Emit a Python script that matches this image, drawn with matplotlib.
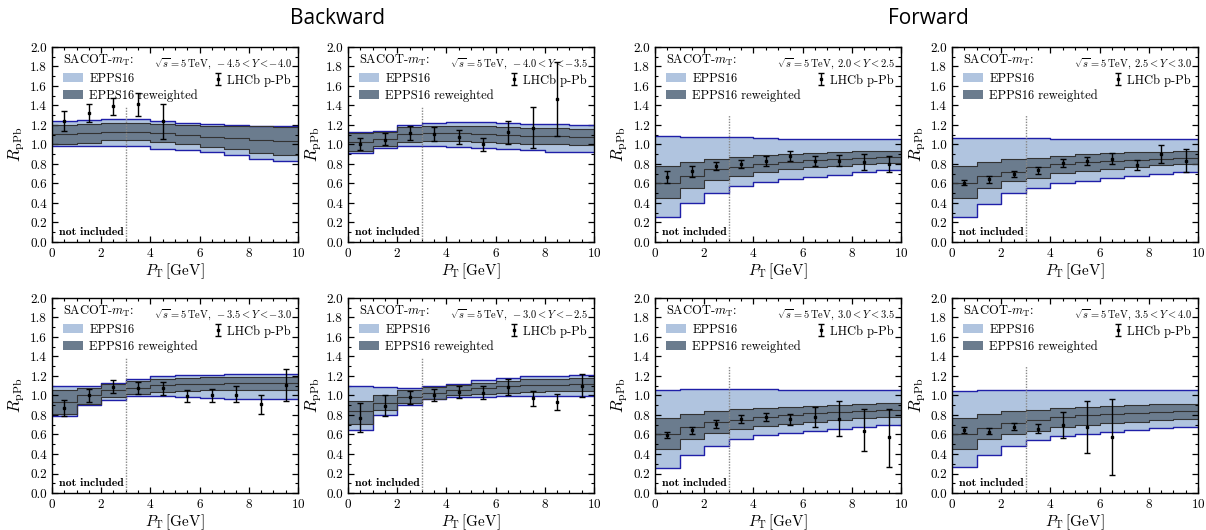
import numpy as np
import matplotlib.pyplot as plt
from matplotlib.patches import Patch
from matplotlib.ticker import MultipleLocator

plt.rcParams['font.family'] = 'serif'
plt.rcParams['font.serif'] = ['cmr10', 'DejaVu Serif']
plt.rcParams['mathtext.fontset'] = 'cm'
plt.rcParams['axes.formatter.use_mathtext'] = True

# pT bins (GeV)
edges = np.arange(0, 11)
pt_mid = np.arange(0.5, 10, 1.0)

# panel order: top row (bwd, bwd, fwd, fwd), bottom row (bwd, bwd, fwd, fwd)
rap_ranges = ['-4.5 < Y < -4.0', '-4.0 < Y < -3.5', '2.0 < Y < 2.5', '2.5 < Y < 3.0',
              '-3.5 < Y < -3.0', '-3.0 < Y < -2.5', '3.0 < Y < 3.5', '3.5 < Y < 4.0']
is_forward = [False, False, True, True, False, False, True, True]

# EPPS16 band
epps_upper = [
    [1.24, 1.25, 1.26, 1.26, 1.24, 1.22, 1.21, 1.20, 1.19, 1.19],
    [1.13, 1.14, 1.20, 1.22, 1.23, 1.235, 1.22, 1.21, 1.205, 1.20],
    [1.085, 1.08, 1.075, 1.075, 1.065, 1.06, 1.06, 1.055, 1.055, 1.055],
    [1.07, 1.07, 1.07, 1.07, 1.06, 1.06, 1.06, 1.06, 1.06, 1.06],
    [1.10, 1.10, 1.13, 1.17, 1.20, 1.21, 1.215, 1.22, 1.22, 1.22],
    [1.10, 1.09, 1.08, 1.10, 1.12, 1.16, 1.18, 1.20, 1.20, 1.21],
    [1.06, 1.07, 1.07, 1.07, 1.065, 1.06, 1.06, 1.06, 1.055, 1.055],
    [1.05, 1.06, 1.06, 1.06, 1.06, 1.06, 1.06, 1.055, 1.055, 1.055],
]
epps_lower = [
    [0.98, 0.98, 0.985, 0.98, 0.955, 0.94, 0.92, 0.89, 0.855, 0.83],
    [0.91, 0.96, 0.985, 0.985, 0.975, 0.96, 0.95, 0.94, 0.925, 0.925],
    [0.26, 0.40, 0.50, 0.57, 0.62, 0.65, 0.67, 0.69, 0.72, 0.74],
    [0.26, 0.39, 0.50, 0.55, 0.60, 0.63, 0.66, 0.68, 0.70, 0.72],
    [0.79, 0.90, 0.95, 0.99, 0.99, 0.98, 0.97, 0.965, 0.965, 0.965],
    [0.65, 0.80, 0.90, 0.96, 0.98, 0.985, 0.99, 0.99, 0.99, 0.99],
    [0.26, 0.39, 0.48, 0.55, 0.59, 0.62, 0.64, 0.66, 0.68, 0.70],
    [0.27, 0.39, 0.48, 0.54, 0.58, 0.61, 0.63, 0.65, 0.67, 0.68],
]

# EPPS16 reweighted band
rw_upper = [
    [1.20, 1.21, 1.22, 1.22, 1.21, 1.20, 1.19, 1.19, 1.185, 1.18],
    [1.12, 1.13, 1.18, 1.19, 1.19, 1.19, 1.18, 1.17, 1.165, 1.16],
    [0.78, 0.82, 0.85, 0.87, 0.89, 0.90, 0.91, 0.92, 0.93, 0.935],
    [0.78, 0.82, 0.85, 0.86, 0.88, 0.90, 0.91, 0.92, 0.925, 0.93],
    [1.06, 1.08, 1.12, 1.15, 1.17, 1.18, 1.185, 1.19, 1.19, 1.19],
    [0.94, 1.00, 1.06, 1.09, 1.11, 1.13, 1.15, 1.17, 1.17, 1.18],
    [0.77, 0.81, 0.84, 0.86, 0.87, 0.88, 0.89, 0.90, 0.91, 0.92],
    [0.77, 0.81, 0.84, 0.85, 0.87, 0.88, 0.89, 0.90, 0.91, 0.91],
]
rw_central = [
    [1.11, 1.12, 1.13, 1.13, 1.12, 1.10, 1.08, 1.07, 1.05, 1.035],
    [1.03, 1.06, 1.11, 1.12, 1.12, 1.11, 1.10, 1.09, 1.085, 1.08],
    [0.61, 0.68, 0.75, 0.77, 0.80, 0.82, 0.84, 0.85, 0.86, 0.87],
    [0.61, 0.675, 0.72, 0.77, 0.80, 0.82, 0.83, 0.84, 0.855, 0.86],
    [0.93, 1.00, 1.06, 1.08, 1.11, 1.12, 1.12, 1.125, 1.125, 1.125],
    [0.84, 0.92, 0.98, 1.03, 1.06, 1.08, 1.10, 1.11, 1.11, 1.115],
    [0.60, 0.68, 0.73, 0.75, 0.78, 0.80, 0.82, 0.83, 0.84, 0.85],
    [0.61, 0.67, 0.72, 0.75, 0.78, 0.80, 0.81, 0.82, 0.83, 0.84],
]
rw_lower = [
    [1.00, 1.02, 1.05, 1.05, 1.03, 1.00, 0.97, 0.95, 0.91, 0.89],
    [0.93, 0.98, 1.03, 1.04, 1.04, 1.03, 1.02, 1.01, 1.00, 0.995],
    [0.45, 0.55, 0.64, 0.68, 0.72, 0.75, 0.77, 0.78, 0.80, 0.81],
    [0.45, 0.55, 0.63, 0.66, 0.71, 0.73, 0.75, 0.77, 0.785, 0.80],
    [0.81, 0.91, 0.98, 1.02, 1.04, 1.05, 1.055, 1.055, 1.055, 1.055],
    [0.71, 0.85, 0.92, 0.96, 1.00, 1.02, 1.03, 1.04, 1.045, 1.05],
    [0.45, 0.55, 0.62, 0.66, 0.69, 0.71, 0.73, 0.75, 0.77, 0.78],
    [0.45, 0.55, 0.61, 0.64, 0.68, 0.70, 0.72, 0.73, 0.75, 0.76],
]

# LHCb p-Pb data: value, lower end, upper end of error bar
lhcb_val = [
    [1.24, 1.32, 1.39, 1.41, 1.24],
    [1.00, 1.05, 1.12, 1.11, 1.08, 1.00, 1.125, 1.17, 1.47],
    [0.665, 0.725, 0.775, 0.80, 0.83, 0.88, 0.835, 0.835, 0.82, 0.80],
    [0.61, 0.645, 0.70, 0.735, 0.81, 0.83, 0.855, 0.79, 0.90, 0.835],
    [0.87, 1.00, 1.09, 1.08, 1.08, 0.995, 1.00, 1.01, 0.91, 1.11],
    [0.77, 0.89, 0.98, 1.005, 1.035, 1.03, 1.09, 0.97, 0.935, 1.10],
    [0.595, 0.645, 0.71, 0.76, 0.78, 0.755, 0.78, 0.76, 0.64, 0.57],
    [0.65, 0.63, 0.68, 0.66, 0.70, 0.675, 0.57],
]
lhcb_lo = [
    [1.14, 1.23, 1.30, 1.29, 1.06],
    [0.94, 0.99, 1.05, 1.04, 1.01, 0.93, 1.01, 0.96, 1.09],
    [0.60, 0.67, 0.74, 0.76, 0.78, 0.83, 0.78, 0.78, 0.74, 0.72],
    [0.58, 0.61, 0.67, 0.70, 0.77, 0.79, 0.80, 0.74, 0.81, 0.72],
    [0.79, 0.93, 1.03, 1.02, 1.01, 0.93, 0.93, 0.93, 0.81, 0.94],
    [0.63, 0.79, 0.91, 0.94, 0.97, 0.96, 1.01, 0.89, 0.85, 0.98],
    [0.56, 0.61, 0.67, 0.72, 0.74, 0.70, 0.68, 0.58, 0.43, 0.27],
    [0.62, 0.60, 0.65, 0.62, 0.56, 0.41, 0.18],
]
lhcb_hi = [
    [1.34, 1.42, 1.48, 1.53, 1.41],
    [1.07, 1.12, 1.19, 1.18, 1.15, 1.07, 1.24, 1.38, 1.85],
    [0.73, 0.78, 0.82, 0.84, 0.88, 0.93, 0.88, 0.89, 0.90, 0.88],
    [0.64, 0.68, 0.73, 0.77, 0.85, 0.87, 0.91, 0.84, 0.99, 0.95],
    [0.95, 1.07, 1.16, 1.14, 1.14, 1.06, 1.07, 1.10, 1.01, 1.27],
    [0.92, 1.00, 1.05, 1.07, 1.10, 1.10, 1.17, 1.05, 1.02, 1.22],
    [0.63, 0.68, 0.75, 0.80, 0.82, 0.81, 0.88, 0.94, 0.86, 0.86],
    [0.68, 0.67, 0.72, 0.71, 0.83, 0.94, 0.96],
]

light_col = '#b0c4df'
dark_col = '#6b7c8e'
blue_edge = '#1f1fa8'
dark_edge = '#333333'

fig = plt.figure(figsize=(12.06, 5.30), dpi=100)
lefts = [0.0431, 0.2886, 0.5431, 0.7894]
bottoms = [0.5434, 0.0698]
w, h = 0.204, 0.368


def stepped(v):
    return np.append(v, v[-1])


for i in range(8):
    ax = fig.add_axes([lefts[i % 4], bottoms[i // 4], w, h])

    ax.fill_between(edges, stepped(epps_lower[i]), stepped(epps_upper[i]),
                    step='post', color=light_col, lw=0)
    ax.fill_between(edges, stepped(rw_lower[i]), stepped(rw_upper[i]),
                    step='post', color=dark_col, lw=0)
    for v in (epps_lower[i], epps_upper[i]):
        ax.step(edges, stepped(v), where='post', color=blue_edge, lw=1.0)
    for v in (rw_lower[i], rw_central[i], rw_upper[i]):
        ax.step(edges, stepped(v), where='post', color=dark_edge, lw=0.8)

    n = len(lhcb_val[i])
    y = np.array(lhcb_val[i])
    yerr = [y - np.array(lhcb_lo[i]), np.array(lhcb_hi[i]) - y]
    eb = ax.errorbar(pt_mid[:n], y, yerr=yerr, fmt='s', ms=1.8, color='black',
                     ecolor='black', elinewidth=1.0, capsize=2.3, capthick=1.0,
                     label='LHCb p-Pb', zorder=5)

    # fit-range boundary
    top = 1.3 if is_forward[i] else 1.385
    ax.plot([3, 3], [0, top], ls=(0, (1, 1)), color='#888888', lw=1.0)

    ax.text(0.3, 0.1, 'not included', fontsize=8.5, family='cmb10',
            ha='left', va='center')

    ax.set_xlim(0, 10)
    ax.set_ylim(0, 2.0)
    ax.xaxis.set_major_locator(MultipleLocator(2))
    ax.xaxis.set_minor_locator(MultipleLocator(0.5))
    ax.yaxis.set_major_locator(MultipleLocator(0.2))
    ax.yaxis.set_minor_locator(MultipleLocator(0.1))
    ax.yaxis.set_major_formatter(plt.FormatStrFormatter('%.1f'))
    ax.tick_params(which='both', direction='in', top=True, right=True, labelsize=9.5)
    ax.tick_params(which='major', length=4, width=0.9)
    ax.tick_params(which='minor', length=2, width=0.8)
    for s in ax.spines.values():
        s.set_linewidth(1.0)

    ax.set_xlabel(r'$P_{\rm T}\,[{\rm GeV}]$', fontsize=11, labelpad=1)
    ax.set_ylabel(r'$R_{\rm pPb}$', fontsize=12, labelpad=2)

    leg1 = ax.legend(handles=[Patch(facecolor=light_col, edgecolor='none', label='EPPS16'),
                              Patch(facecolor=dark_col, edgecolor='none', label='EPPS16 reweighted')],
                     title=r'SACOT-$m_{\rm T}$:', loc='upper left', bbox_to_anchor=(0.02, 1.0),
                     frameon=False, fontsize=9, title_fontsize=9, alignment='left',
                     handlelength=1.6, handleheight=0.7, handletextpad=0.5,
                     borderaxespad=0.2, labelspacing=0.35, borderpad=0.3)
    ax.add_artist(leg1)
    ax.legend(handles=[eb], loc='upper right', bbox_to_anchor=(1.0, 0.9), frameon=False,
              fontsize=9, handlelength=0.6, handletextpad=0.4, borderaxespad=0.2)

    ax.text(0.975, 0.955, r'$\sqrt{s} = 5\,{\rm TeV},\; ' + rap_ranges[i] + '$',
            transform=ax.transAxes, ha='right', va='top', fontsize=7.5)

fig.text(0.28, 0.965, 'Backward', family='Open Sans', fontsize=15, ha='center', va='center')
fig.text(0.77, 0.965, 'Forward', family='Open Sans', fontsize=15, ha='center', va='center')

fig.savefig('out.png', dpi=100)
